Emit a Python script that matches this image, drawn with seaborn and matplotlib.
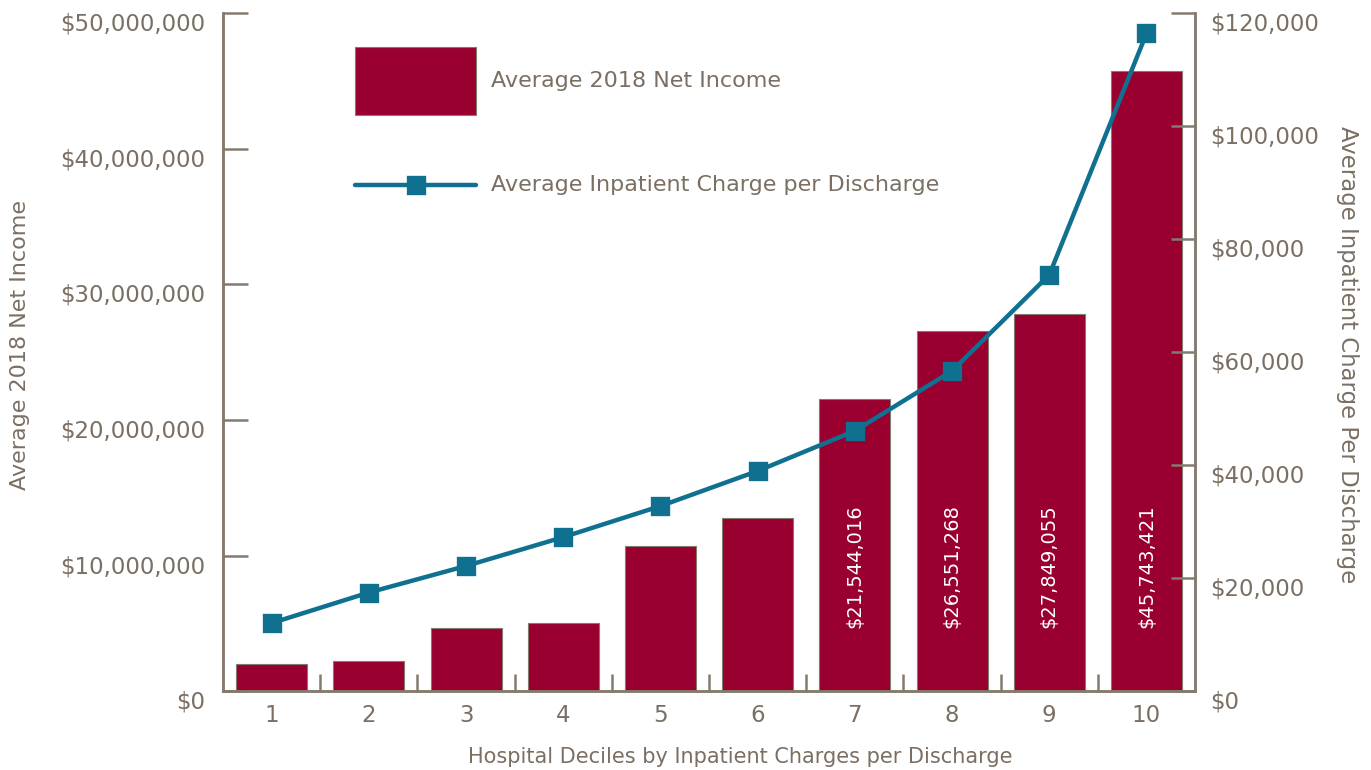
# Net income vs inpatient charges by hospital decile

import matplotlib
matplotlib.use('Agg')
import matplotlib.pyplot as plt
import matplotlib.ticker as mticker
import matplotlib.transforms as mtransforms
from matplotlib.legend_handler import HandlerLine2D
import pandas as pd
import seaborn as sns

# data
deciles = ['1', '2', '3', '4', '5', '6', '7', '8', '9', '10']
net_income = [2000000, 2250000, 4660000, 5070000, 10700000, 12800000,
              21544016, 26551268, 27849055, 45743421]
charge_per_discharge = [12100, 17500, 22200, 27300, 32800, 39000,
                        46100, 56700, 73700, 116400]
labelled_bars = ['7', '8', '9', '10']

bar_color = '#990030'
line_color = '#0f7090'
text_color = '#7b6f63'
spine_color = '#857a6e'


# legend line handler that centres the line on the row like the bar patch
class CenteredLineHandler(HandlerLine2D):
    def create_artists(self, legend, orig_handle, xdescent, ydescent,
                       width, height, fontsize, trans):
        return super().create_artists(legend, orig_handle, xdescent, ydescent,
                                      width, height - ydescent, fontsize, trans)


df = pd.DataFrame({'Decile': deciles,
                   'NetIncome': net_income,
                   'Charge': charge_per_discharge})

sns.set_theme(style='white')
plt.rcParams['font.family'] = ['DejaVu Sans']
plt.rcParams['text.color'] = text_color
plt.rcParams['axes.labelcolor'] = text_color
plt.rcParams['xtick.color'] = text_color
plt.rcParams['ytick.color'] = text_color
plt.rcParams['xtick.direction'] = 'in'
plt.rcParams['ytick.direction'] = 'in'

fig = plt.figure(figsize=(13.71, 7.70), dpi=100)
ax = fig.add_axes([0.1627, 0.102, 0.709, 0.881])

sns.barplot(data=df, x='Decile', y='NetIncome', color=bar_color,
            saturation=1, width=0.73, edgecolor=spine_color, linewidth=0.8,
            errorbar=None, ax=ax)

ax2 = ax.twinx()
sns.pointplot(data=df, x='Decile', y='Charge', color=line_color,
              marker='s', markersize=11, linewidth=3.2, errorbar=None, ax=ax2)

# axis limits and ticks
ax.set_xlim(-0.5, 9.5)
ax.set_ylim(0, 50000000)
ax2.set_ylim(0, 120000)
ax.set_yticks(range(0, 50000001, 10000000))
ax2.set_yticks(range(0, 120001, 20000))
ax.yaxis.set_major_formatter(mticker.StrMethodFormatter('${x:,.0f}'))
ax2.yaxis.set_major_formatter(mticker.StrMethodFormatter('${x:,.0f}'))

ax.tick_params(axis='y', direction='in', length=18, width=1.8,
               color=spine_color, pad=13, labelsize=16.5, left=True)
ax2.tick_params(axis='y', direction='in', length=17, width=1.8,
                color=spine_color, pad=11, labelsize=16.5, right=True)
ax.tick_params(axis='x', which='major', length=0, pad=9, labelsize=16.5)
ax.set_xticks([i + 0.5 for i in range(len(deciles) - 1)], minor=True)
ax.tick_params(axis='x', which='minor', direction='in', length=12,
               width=1.8, color=spine_color, bottom=True)

# tick labels sit a little below their ticks in the original
shift = mtransforms.ScaledTranslation(0, -6 / 72, fig.dpi_scale_trans)
for lbl in ax.get_yticklabels() + ax2.get_yticklabels():
    lbl.set_transform(lbl.get_transform() + shift)

for a in (ax, ax2):
    a.spines['top'].set_visible(False)
    for side in ('left', 'right', 'bottom'):
        a.spines[side].set_color(spine_color)
        a.spines[side].set_linewidth(1.8)
    a.grid(False)

# labels
ax.set_xlabel('Hospital Deciles by Inpatient Charges per Discharge', fontsize=15)
ax.xaxis.set_label_coords(0.532, -0.082)
ax.set_ylabel('Average 2018 Net Income', fontsize=16)
ax.yaxis.set_label_coords(-0.199, 0.51)
ax2.set_ylabel('Average Inpatient Charge Per Discharge', fontsize=16.4,
               rotation=270, va='bottom')
ax2.yaxis.set_label_coords(1.145, 0.496)

# value labels inside the larger bars
for i, d in enumerate(deciles):
    if d in labelled_bars:
        ax.text(i, 0.093, '${:,.0f}'.format(net_income[i]),
                transform=ax.get_xaxis_transform(), rotation=90,
                ha='center', va='bottom', color='white', fontsize=14)

# legend
line_handle = ax2.lines[0]
leg = ax2.legend(handles=[ax.containers[0], line_handle],
                 labels=['Average 2018 Net Income',
                         'Average Inpatient Charge per Discharge'],
                 handler_map={line_handle: CenteredLineHandler(numpoints=1)},
                 loc='upper left', bbox_to_anchor=(0.259, 0.939),
                 bbox_transform=fig.transFigure, frameon=False,
                 fontsize=16, handlelength=5.45, handleheight=4.3,
                 handletextpad=0.65, labelspacing=1.64, borderpad=0,
                 borderaxespad=0, numpoints=1)
for t in leg.get_texts():
    t.set_color(text_color)

plt.savefig('out.png', dpi=100)
